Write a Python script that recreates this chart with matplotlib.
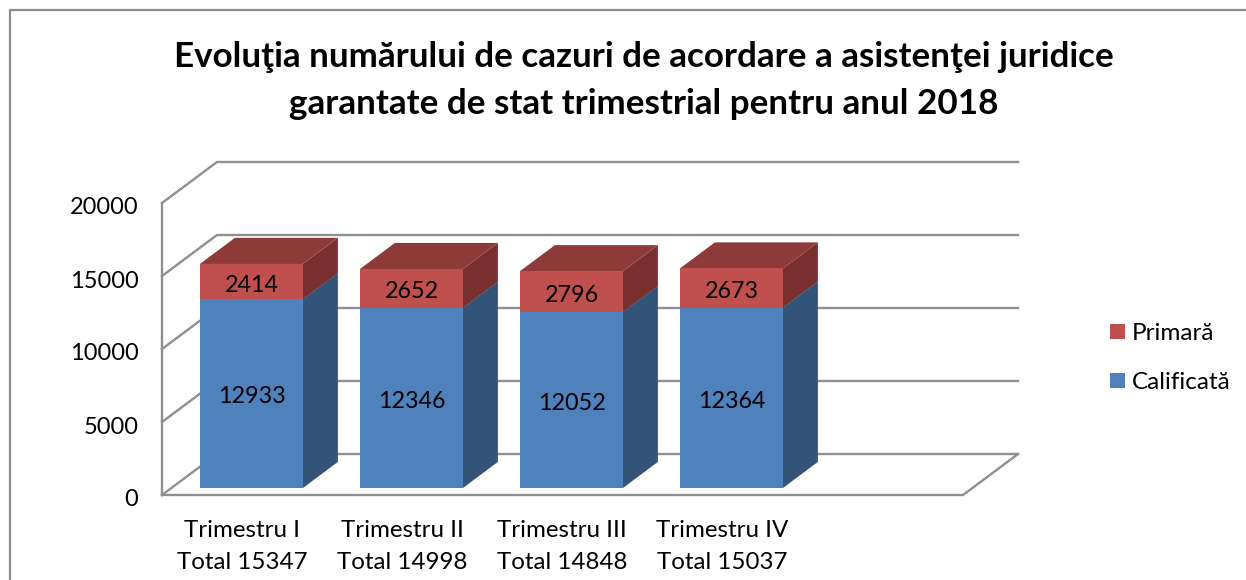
import matplotlib
matplotlib.use("Agg")
import matplotlib.pyplot as plt
from matplotlib.patches import Patch
from matplotlib.transforms import ScaledTranslation

categories = ["Trimestru I\nTotal 15347", "Trimestru II\nTotal 14998",
              "Trimestru III\nTotal 14848", "Trimestru IV\nTotal 15037"]
calificata = [12933, 12346, 12052, 12364]
primara = [2414, 2652, 2796, 2673]
y_ticks = [0, 5000, 10000, 15000, 20000]
title = "Evoluţia numărului de cazuri de acordare a asistenţei juridice\ngarantate de stat trimestrial pentru anul 2018"

W, H = 1246, 580
GRID = "#8f8f8f"
BLUE = ("#4f81bd", "#4a76ab", "#335479")
RED = ("#c0504d", "#8e3a38", "#7a302e")

plt.rcParams["font.family"] = ["Lato", "DejaVu Sans"]

# depth of the fake 3d box, in data units per unit of depth
DX = 55 / 160
DY = 41 / 0.0146
BAR_W = 103 / 160
D0 = 0.17
D1 = 0.807


def shear(x, y, d):
    return x + d * DX, y + d * DY


def face(ax, pts, color, z):
    xs = [p[0] for p in pts]
    ys = [p[1] for p in pts]
    ax.fill(xs, ys, color=color, lw=0, zorder=z, clip_on=False)


def bar_segment(ax, xc, low, high, colors, z):
    l = xc - BAR_W / 2
    r = xc + BAR_W / 2
    # side
    face(ax, [shear(r, low, D0), shear(r, low, D1), shear(r, high, D1), shear(r, high, D0)], colors[2], z)
    # top
    face(ax, [shear(l, high, D0), shear(r, high, D0), shear(r, high, D1), shear(l, high, D1)], colors[1], z)
    # front
    face(ax, [shear(l, low, D0), shear(r, low, D0), shear(r, high, D0), shear(l, high, D0)], colors[0], z)


fig = plt.figure(figsize=(W / 100, H / 100), dpi=100)
ax = fig.add_axes([162 / W, 1 - 495 / H, 801 / W, 292 / H])
ax.set_xlim(0, 801 / 160)
ax.set_ylim(0, 20000)
for s in ax.spines.values():
    s.set_visible(False)
ax.patch.set_alpha(0)

# outer frame, cut by the image on the right and bottom
fig.add_artist(plt.Line2D([9.5 / W, 9.5 / W, 1], [0, 1 - 9.5 / H, 1 - 9.5 / H],
                          color="#8c8c8c", lw=1.6))

# walls and gridlines
xmax = 801 / 160
for v in y_ticks:
    x0, y0 = shear(0, v, 0)
    x1, y1 = shear(0, v, 1)
    x2, y2 = shear(xmax, v, 1)
    ax.plot([x0, x1, x2], [y0, y1, y2], color=GRID, lw=1.7, zorder=1, clip_on=False)
ax.plot([0, 0], [0, 20000], color=GRID, lw=1.7, zorder=1, clip_on=False)
ax.plot([0, xmax, shear(xmax, 0, 1)[0]], [0, 0, shear(xmax, 0, 1)[1]], color=GRID, lw=1.7, zorder=1, clip_on=False)

pos = [i + 0.5 for i in range(len(categories))]
for i, xc in enumerate(pos):
    bar_segment(ax, xc, 0, calificata[i], BLUE, 3)
    bar_segment(ax, xc, calificata[i], calificata[i] + primara[i], RED, 4)
    tx = shear(xc, 0, D0)[0] + 1 / 160
    ax.text(tx, shear(0, calificata[i] / 2 - 230, D0)[1], str(calificata[i]),
            ha="center", va="center", fontsize=16.8, color="black", zorder=6)
    ax.text(tx, shear(0, calificata[i] + primara[i] / 2 - 240, D0)[1], str(primara[i]),
            ha="center", va="center", fontsize=16.8, color="black", zorder=6)

ax.set_xticks(pos)
ax.set_xticklabels(categories, fontsize=17.4, linespacing=1.66)
ax.set_yticks(y_ticks)
ax.tick_params(axis="x", length=0, pad=18)
ax.tick_params(axis="y", length=0, pad=17, labelsize=17)
for lab in ax.get_yticklabels():
    lab.set_transform(lab.get_transform() + ScaledTranslation(0, -3 / 100, fig.dpi_scale_trans))

fig.text(644 / W, 1 - 80.5 / H, title, ha="center", va="center", fontsize=25.2,
         fontweight="bold", linespacing=1.55)

handles = [Patch(color=RED[0], lw=0), Patch(color=BLUE[0], lw=0)]
fig.legend(handles, ["Primară", "Calificată"], loc="center left",
           bbox_to_anchor=(1110 / W, 1 - 358 / H), frameon=False, fontsize=17.5,
           handlelength=0.62, handleheight=0.62, handletextpad=0.29, labelspacing=1.15,
           borderpad=0, borderaxespad=0)

fig.savefig("out.png", dpi=100)
